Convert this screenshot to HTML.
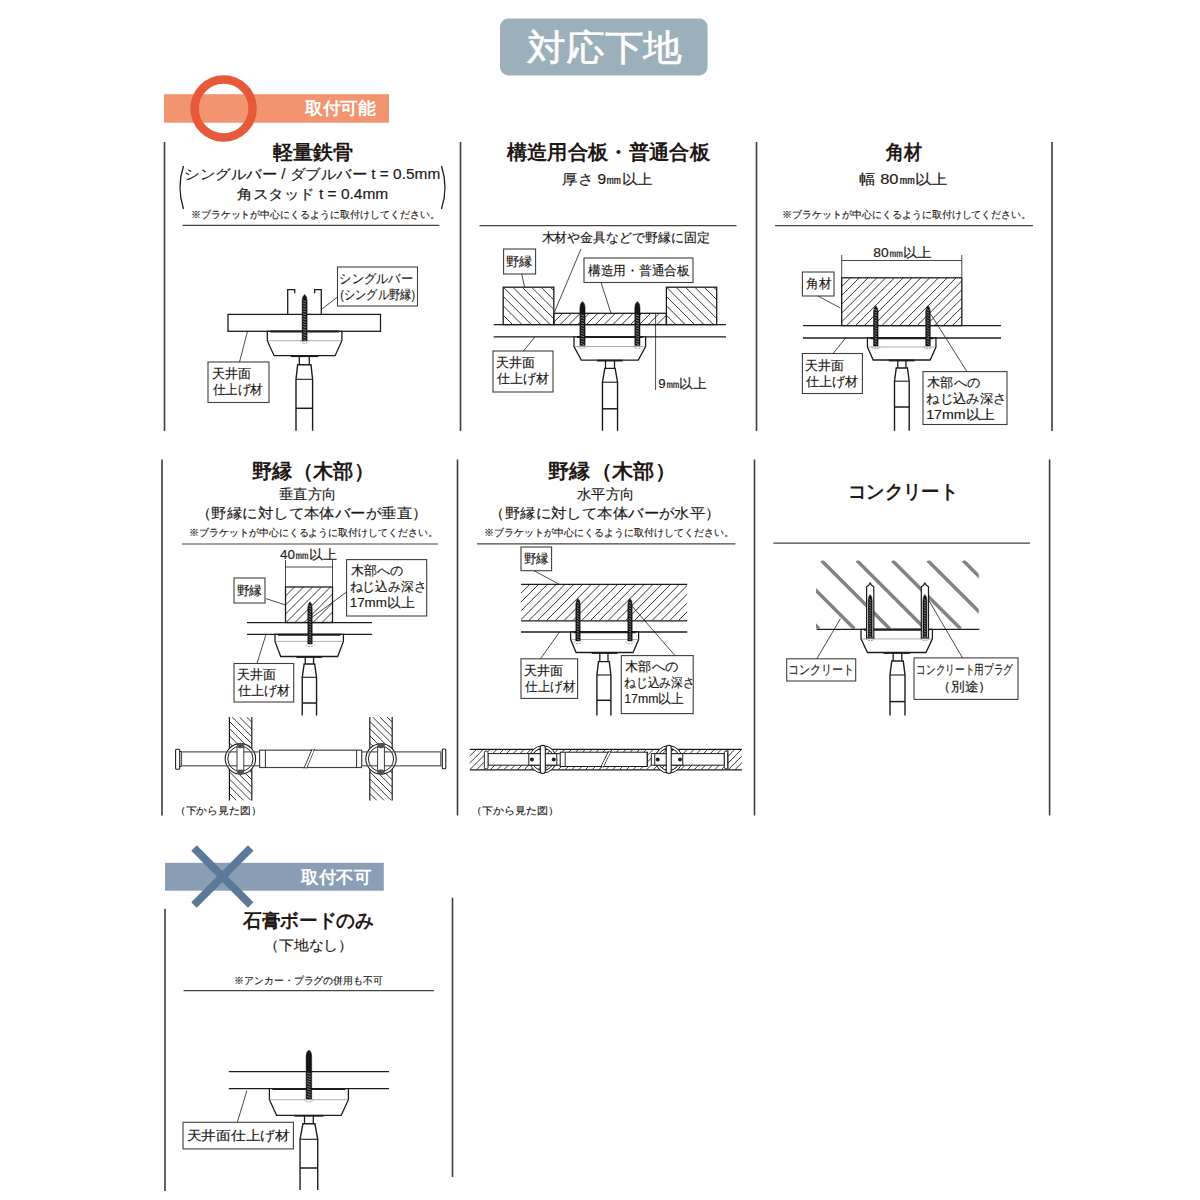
<!DOCTYPE html>
<html><head><meta charset="utf-8"><title>対応下地</title>
<style>
html,body{margin:0;padding:0;background:#fff;}
body{width:1200px;height:1200px;overflow:hidden;font-family:"Liberation Sans",sans-serif;}
svg{display:block;font-family:"Liberation Sans",sans-serif;}
</style></head><body>
<svg width="1200" height="1200" viewBox="0 0 1200 1200">
<defs><clipPath id="cp2a"><rect x="503.2" y="287.2" width="50.6" height="37.4"/></clipPath><clipPath id="cp2b"><rect x="666.4" y="287.2" width="50.3" height="37.4"/></clipPath><clipPath id="cp2c"><rect x="553.8" y="313.3" width="112.6" height="11.3"/></clipPath><clipPath id="cp3a"><rect x="841.7" y="277.8" width="120.1" height="47.8"/></clipPath><clipPath id="cp4a"><rect x="285.5" y="587" width="47" height="35.5"/></clipPath><clipPath id="cw229"><rect x="229.4" y="717" width="22.4" height="83.6"/></clipPath><clipPath id="cw369"><rect x="369.8" y="717" width="22.4" height="83.6"/></clipPath><clipPath id="cp5a"><rect x="521" y="584.4" width="166.2" height="36.4"/></clipPath><clipPath id="cb5"><rect x="469.8" y="749.3" width="272" height="20.5"/></clipPath><clipPath id="cconc"><rect x="816" y="560.5" width="162.75" height="68.25"/></clipPath></defs>
<rect width="1200" height="1200" fill="#fff"/>
<rect x="500" y="18.6" width="207.6" height="57" rx="8.5" fill="#9bb0ba"/>
<text x="527" y="59.9" font-size="36" textLength="155" lengthAdjust="spacingAndGlyphs" fill="#fff" stroke="#fff" stroke-width="0.6">対応下地</text>
<rect x="164" y="94.2" width="225" height="28.5" fill="#f1946f"/>
<circle cx="223.6" cy="108.4" r="29" fill="none" stroke="#e8583b" stroke-width="8.5"/>
<text x="304.7" y="114.1" font-size="17" font-weight="bold" textLength="71.3" lengthAdjust="spacingAndGlyphs" fill="#fff">取付可能</text>
<line x1="164.5" y1="142" x2="164.5" y2="431" stroke="#3c3c3c" stroke-width="1.6"/>
<line x1="460.5" y1="142" x2="460.5" y2="431" stroke="#3c3c3c" stroke-width="1.6"/>
<line x1="756.5" y1="142" x2="756.5" y2="431" stroke="#3c3c3c" stroke-width="1.6"/>
<line x1="1052" y1="142" x2="1052" y2="431" stroke="#3c3c3c" stroke-width="1.6"/>
<text x="272.54" y="158.9" font-size="20" font-weight="bold" textLength="80.8" lengthAdjust="spacingAndGlyphs" fill="#231815">軽量鉄骨</text>
<text x="184.4" y="179.2" font-size="14" textLength="255.86" lengthAdjust="spacingAndGlyphs" fill="#231815" stroke="#231815" stroke-width="0.15">シングルバー / ダブルバー t = 0.5mm</text>
<text x="237.2" y="199.2" font-size="14" textLength="151.06" lengthAdjust="spacingAndGlyphs" fill="#231815" stroke="#231815" stroke-width="0.15">角スタッド t = 0.4mm</text>
<path d="M183.5 166 Q176.5 187.5 183.5 209" stroke="#231815" stroke-width="1.3" fill="none" />
<path d="M441.5 166 Q448.5 187.5 441.5 209" stroke="#231815" stroke-width="1.3" fill="none" />
<text x="190.66" y="218.32" font-size="9.8" textLength="249.08" lengthAdjust="spacingAndGlyphs" fill="#231815" stroke="#231815" stroke-width="0.15">※ブラケットが中心にくるように取付けしてください。</text>
<line x1="182.5" y1="225.3" x2="439.3" y2="225.3" stroke="#444" stroke-width="1.2"/>
<rect x="228" y="314.4" width="152.5" height="16.9" stroke="#1c1c1c" stroke-width="1.3" fill="none" />
<path d="M294.7 293.3 V289.6 H287.7 V314.4 M321.3 314.4 V289.6 H314.6 V293.3" stroke="#1c1c1c" stroke-width="1.3" fill="none" />
<path d="M267.3 331.3 H341.9 V340.7 L335.1 355.7 H274.1 L267.3 340.7 Z" stroke="#1c1c1c" stroke-width="1.3" fill="#fff" />
<line x1="267.3" y1="340.7" x2="341.9" y2="340.7" stroke="#777" stroke-width="0.6"/>
<line x1="270.3" y1="331.6" x2="338.9" y2="331.6" stroke="#1c1c1c" stroke-width="2.0"/>
<line x1="290.88" y1="356.2" x2="318.33" y2="356.2" stroke="#1c1c1c" stroke-width="1.8"/>
<path d="M302.1 341 V300.4 Q302.1 296.4 304.6 294.4 Q307.1 296.4 307.1 300.4 V341 Z" stroke="#111" stroke-width="0.5" fill="#151515" />
<path d="M303.1 300.5 l3 1.2 M303.1 303.1 l3 1.2 M303.1 305.7 l3 1.2 M303.1 308.3 l3 1.2 M303.1 310.9 l3 1.2 M303.1 313.5 l3 1.2 M303.1 316.1 l3 1.2 M303.1 318.7 l3 1.2 M303.1 321.3 l3 1.2 M303.1 323.9 l3 1.2 M303.1 326.5 l3 1.2 M303.1 329.1 l3 1.2 M303.1 331.7 l3 1.2 M303.1 334.3 l3 1.2 M303.1 336.9 l3 1.2 M303.1 339.5 l3 1.2" stroke="#9a9a9a" stroke-width="0.8" fill="none"/>
<path d="M300.4 341.2 A4.2 2.2 0 0 0 308.8 341.2" stroke="#777" stroke-width="0.7" fill="none" stroke-dasharray="2 1"/>
<line x1="299.3" y1="355.7" x2="299.3" y2="364.7" stroke="#1c1c1c" stroke-width="1.3"/>
<line x1="309.3" y1="355.7" x2="309.3" y2="364.7" stroke="#1c1c1c" stroke-width="1.3"/>
<path d="M296 430.7 V379.3 L297.65 364.7 H310.95 L312.6 379.3 V430.7" stroke="#1c1c1c" stroke-width="1.4" fill="none" />
<line x1="296" y1="379.3" x2="312.6" y2="379.3" stroke="#1c1c1c" stroke-width="1.1"/>
<line x1="296" y1="408.3" x2="312.6" y2="408.3" stroke="#1c1c1c" stroke-width="1.5"/>
<rect x="337.5" y="267" width="80" height="39" stroke="#3e3e3e" stroke-width="1.1" fill="#fff" />
<text x="339.4" y="282.55" font-size="12.5" textLength="73.4" lengthAdjust="spacingAndGlyphs" fill="#231815" stroke="#231815" stroke-width="0.15">シングルバー</text>
<text x="340.2" y="299.3" font-size="12.5" textLength="74.8" lengthAdjust="spacingAndGlyphs" fill="#231815" stroke="#231815" stroke-width="0.15">(シングル野縁)</text>
<line x1="321.3" y1="309.5" x2="337.5" y2="297" stroke="#1c1c1c" stroke-width="0.8"/>
<rect x="208" y="362" width="61" height="40.5" stroke="#3e3e3e" stroke-width="1.1" fill="#fff" />
<text x="211.7" y="378.05" font-size="12.5" textLength="39.1" lengthAdjust="spacingAndGlyphs" fill="#231815" stroke="#231815" stroke-width="0.15">天井面</text>
<text x="212.5" y="394.3" font-size="12.5" textLength="50.5" lengthAdjust="spacingAndGlyphs" fill="#231815" stroke="#231815" stroke-width="0.15">仕上げ材</text>
<line x1="239.5" y1="362" x2="247.5" y2="331.3" stroke="#1c1c1c" stroke-width="0.8"/>
<text x="506.92" y="158.9" font-size="20" font-weight="bold" textLength="202.96" lengthAdjust="spacingAndGlyphs" fill="#231815">構造用合板・普通合板</text>
<text x="562.2" y="183.9" font-size="14" textLength="90.72" lengthAdjust="spacingAndGlyphs" fill="#231815" stroke="#231815" stroke-width="0.15">厚さ 9㎜以上</text>
<line x1="479.5" y1="225.6" x2="736.5" y2="225.6" stroke="#444" stroke-width="1.2"/>
<text x="541.5" y="241.65" font-size="12.5" textLength="168.3" lengthAdjust="spacingAndGlyphs" fill="#231815" stroke="#231815" stroke-width="0.15">木材や金具などで野縁に固定</text>
<path d="M465.8 287.2 l37.4 37.4 M475.2 287.2 l37.4 37.4 M484.6 287.2 l37.4 37.4 M494 287.2 l37.4 37.4 M503.4 287.2 l37.4 37.4 M512.8 287.2 l37.4 37.4 M522.2 287.2 l37.4 37.4 M531.6 287.2 l37.4 37.4 M541 287.2 l37.4 37.4 M550.4 287.2 l37.4 37.4 M559.8 287.2 l37.4 37.4 M569.2 287.2 l37.4 37.4 M578.6 287.2 l37.4 37.4 M588 287.2 l37.4 37.4" stroke="#1c1c1c" stroke-width="0.9" fill="none" clip-path="url(#cp2a)"/>
<rect x="503.2" y="287.2" width="50.6" height="37.4" stroke="#1c1c1c" stroke-width="1.3" fill="none" />
<path d="M629 287.2 l37.4 37.4 M638.4 287.2 l37.4 37.4 M647.8 287.2 l37.4 37.4 M657.2 287.2 l37.4 37.4 M666.6 287.2 l37.4 37.4 M676 287.2 l37.4 37.4 M685.4 287.2 l37.4 37.4 M694.8 287.2 l37.4 37.4 M704.2 287.2 l37.4 37.4 M713.6 287.2 l37.4 37.4 M723 287.2 l37.4 37.4 M732.4 287.2 l37.4 37.4 M741.8 287.2 l37.4 37.4 M751.2 287.2 l37.4 37.4" stroke="#1c1c1c" stroke-width="0.9" fill="none" clip-path="url(#cp2b)"/>
<rect x="666.4" y="287.2" width="50.3" height="37.4" stroke="#1c1c1c" stroke-width="1.3" fill="none" />
<path d="M542.5 324.6 l11.3 -11.3 M551.3 324.6 l11.3 -11.3 M560.1 324.6 l11.3 -11.3 M568.9 324.6 l11.3 -11.3 M577.7 324.6 l11.3 -11.3 M586.5 324.6 l11.3 -11.3 M595.3 324.6 l11.3 -11.3 M604.1 324.6 l11.3 -11.3 M612.9 324.6 l11.3 -11.3 M621.7 324.6 l11.3 -11.3 M630.5 324.6 l11.3 -11.3 M639.3 324.6 l11.3 -11.3 M648.1 324.6 l11.3 -11.3 M656.9 324.6 l11.3 -11.3 M665.7 324.6 l11.3 -11.3 M674.5 324.6 l11.3 -11.3" stroke="#1c1c1c" stroke-width="0.9" fill="none" clip-path="url(#cp2c)"/>
<rect x="553.8" y="313.3" width="112.6" height="11.3" stroke="#1c1c1c" stroke-width="1.3" fill="none" />
<line x1="493.7" y1="324.6" x2="726" y2="324.6" stroke="#1c1c1c" stroke-width="1.3"/>
<line x1="493.7" y1="336.8" x2="726" y2="336.8" stroke="#1c1c1c" stroke-width="1.3"/>
<line x1="655.6" y1="313.3" x2="655.6" y2="390" stroke="#1c1c1c" stroke-width="0.8"/>
<path d="M574 336.8 H645.6 V346.5 L638.3 360.1 H581.3 L574 346.5 Z" stroke="#1c1c1c" stroke-width="1.3" fill="#fff" />
<line x1="574" y1="346.5" x2="645.6" y2="346.5" stroke="#777" stroke-width="0.6"/>
<line x1="577" y1="337.1" x2="642.6" y2="337.1" stroke="#1c1c1c" stroke-width="2.0"/>
<line x1="596.97" y1="360.6" x2="622.62" y2="360.6" stroke="#1c1c1c" stroke-width="1.8"/>
<path d="M579.9 345.5 V307.5 Q579.9 303.5 582.5 301.5 Q585.1 303.5 585.1 307.5 V345.5 Z" stroke="#111" stroke-width="0.5" fill="#151515" />
<path d="M580.9 314.8 l3.2 1.2 M580.9 317.4 l3.2 1.2 M580.9 320 l3.2 1.2 M580.9 322.6 l3.2 1.2 M580.9 325.2 l3.2 1.2 M580.9 327.8 l3.2 1.2 M580.9 330.4 l3.2 1.2 M580.9 333 l3.2 1.2 M580.9 335.6 l3.2 1.2 M580.9 338.2 l3.2 1.2 M580.9 340.8 l3.2 1.2 M580.9 343.4 l3.2 1.2" stroke="#9a9a9a" stroke-width="0.8" fill="none"/>
<path d="M634.8 345.5 V307.5 Q634.8 303.5 637.4 301.5 Q640 303.5 640 307.5 V345.5 Z" stroke="#111" stroke-width="0.5" fill="#151515" />
<path d="M635.8 314.8 l3.2 1.2 M635.8 317.4 l3.2 1.2 M635.8 320 l3.2 1.2 M635.8 322.6 l3.2 1.2 M635.8 325.2 l3.2 1.2 M635.8 327.8 l3.2 1.2 M635.8 330.4 l3.2 1.2 M635.8 333 l3.2 1.2 M635.8 335.6 l3.2 1.2 M635.8 338.2 l3.2 1.2 M635.8 340.8 l3.2 1.2 M635.8 343.4 l3.2 1.2" stroke="#9a9a9a" stroke-width="0.8" fill="none"/>
<path d="M578.3 346 A4.2 2.2 0 0 0 586.7 346" stroke="#777" stroke-width="0.7" fill="none" stroke-dasharray="2 1"/>
<path d="M633.2 346 A4.2 2.2 0 0 0 641.6 346" stroke="#777" stroke-width="0.7" fill="none" stroke-dasharray="2 1"/>
<line x1="605.5" y1="360.6" x2="605.5" y2="368.4" stroke="#1c1c1c" stroke-width="1.3"/>
<line x1="614.5" y1="360.6" x2="614.5" y2="368.4" stroke="#1c1c1c" stroke-width="1.3"/>
<path d="M602.45 430.7 V382.2 L604.85 368.4 H615.15 L617.55 382.2 V430.7" stroke="#1c1c1c" stroke-width="1.4" fill="none" />
<line x1="602.45" y1="382.2" x2="617.55" y2="382.2" stroke="#1c1c1c" stroke-width="1.1"/>
<line x1="602.45" y1="408.8" x2="617.55" y2="408.8" stroke="#1c1c1c" stroke-width="1.5"/>
<rect x="503.6" y="249" width="32" height="25" stroke="#3e3e3e" stroke-width="1.1" fill="#fff" />
<text x="506.2" y="265.55" font-size="12.5" textLength="26.6" lengthAdjust="spacingAndGlyphs" fill="#231815" stroke="#231815" stroke-width="0.15">野縁</text>
<line x1="521.7" y1="274" x2="524.7" y2="287.2" stroke="#1c1c1c" stroke-width="0.8"/>
<rect x="584" y="258" width="109" height="24.5" stroke="#3e3e3e" stroke-width="1.1" fill="#fff" />
<text x="588" y="274.55" font-size="12.5" textLength="101.8" lengthAdjust="spacingAndGlyphs" fill="#231815" stroke="#231815" stroke-width="0.15">構造用・普通合板</text>
<line x1="601" y1="282.5" x2="611" y2="313.3" stroke="#1c1c1c" stroke-width="0.8"/>
<line x1="581" y1="249" x2="554.5" y2="312" stroke="#1c1c1c" stroke-width="0.8"/>
<rect x="493" y="351" width="60" height="41" stroke="#3e3e3e" stroke-width="1.1" fill="#fff" />
<text x="496.2" y="367.05" font-size="12.5" textLength="38.8" lengthAdjust="spacingAndGlyphs" fill="#231815" stroke="#231815" stroke-width="0.15">天井面</text>
<text x="497" y="383.05" font-size="12.5" textLength="52" lengthAdjust="spacingAndGlyphs" fill="#231815" stroke="#231815" stroke-width="0.15">仕上げ材</text>
<line x1="523.5" y1="351" x2="535" y2="336.8" stroke="#1c1c1c" stroke-width="0.8"/>
<text x="658.2" y="388.05" font-size="12.5" textLength="48.8" lengthAdjust="spacingAndGlyphs" fill="#231815" stroke="#231815" stroke-width="0.15">9㎜以上</text>
<text x="886" y="158.9" font-size="20" font-weight="bold" textLength="36" lengthAdjust="spacingAndGlyphs" fill="#231815">角材</text>
<text x="859.2" y="183.9" font-size="14" textLength="88.72" lengthAdjust="spacingAndGlyphs" fill="#231815" stroke="#231815" stroke-width="0.15">幅 80㎜以上</text>
<text x="782.32" y="218.32" font-size="9.8" textLength="248.88" lengthAdjust="spacingAndGlyphs" fill="#231815" stroke="#231815" stroke-width="0.15">※ブラケットが中心にくるように取付けしてください。</text>
<line x1="775" y1="225.6" x2="1033" y2="225.6" stroke="#444" stroke-width="1.2"/>
<text x="873.2" y="256.55" font-size="12.5" textLength="58.6" lengthAdjust="spacingAndGlyphs" fill="#231815" stroke="#231815" stroke-width="0.15">80㎜以上</text>
<line x1="841.7" y1="260.5" x2="961.8" y2="260.5" stroke="#1c1c1c" stroke-width="0.8"/>
<line x1="841.7" y1="255" x2="841.7" y2="277.8" stroke="#1c1c1c" stroke-width="0.8"/>
<line x1="961.8" y1="255" x2="961.8" y2="277.8" stroke="#1c1c1c" stroke-width="0.8"/>
<path d="M793.9 325.6 l47.8 -47.8 M802.7 325.6 l47.8 -47.8 M811.5 325.6 l47.8 -47.8 M820.3 325.6 l47.8 -47.8 M829.1 325.6 l47.8 -47.8 M837.9 325.6 l47.8 -47.8 M846.7 325.6 l47.8 -47.8 M855.5 325.6 l47.8 -47.8 M864.3 325.6 l47.8 -47.8 M873.1 325.6 l47.8 -47.8 M881.9 325.6 l47.8 -47.8 M890.7 325.6 l47.8 -47.8 M899.5 325.6 l47.8 -47.8 M908.3 325.6 l47.8 -47.8 M917.1 325.6 l47.8 -47.8 M925.9 325.6 l47.8 -47.8 M934.7 325.6 l47.8 -47.8 M943.5 325.6 l47.8 -47.8 M952.3 325.6 l47.8 -47.8 M961.1 325.6 l47.8 -47.8 M969.9 325.6 l47.8 -47.8 M978.7 325.6 l47.8 -47.8 M987.5 325.6 l47.8 -47.8 M996.3 325.6 l47.8 -47.8 M1005.1 325.6 l47.8 -47.8" stroke="#1c1c1c" stroke-width="0.9" fill="none" clip-path="url(#cp3a)"/>
<rect x="841.7" y="277.8" width="120.1" height="47.8" stroke="#1c1c1c" stroke-width="1.3" fill="none" />
<line x1="803" y1="325.6" x2="1001" y2="325.6" stroke="#1c1c1c" stroke-width="1.3"/>
<line x1="803" y1="338" x2="1001" y2="338" stroke="#1c1c1c" stroke-width="1.3"/>
<path d="M867.45 338 H935.95 V347 L930.2 360 H873.2 L867.45 347 Z" stroke="#1c1c1c" stroke-width="1.3" fill="#fff" />
<line x1="867.45" y1="347" x2="935.95" y2="347" stroke="#777" stroke-width="0.6"/>
<line x1="870.45" y1="338.3" x2="932.95" y2="338.3" stroke="#1c1c1c" stroke-width="2.0"/>
<line x1="888.88" y1="360.5" x2="914.53" y2="360.5" stroke="#1c1c1c" stroke-width="1.8"/>
<path d="M873.5 346 V311.7 Q873.5 307.7 875.8 305.7 Q878.1 307.7 878.1 311.7 V346 Z" stroke="#111" stroke-width="0.5" fill="#151515" />
<path d="M874.5 309.5 l2.6 1.2 M874.5 312.1 l2.6 1.2 M874.5 314.7 l2.6 1.2 M874.5 317.3 l2.6 1.2 M874.5 319.9 l2.6 1.2 M874.5 322.5 l2.6 1.2 M874.5 325.1 l2.6 1.2 M874.5 327.7 l2.6 1.2 M874.5 330.3 l2.6 1.2 M874.5 332.9 l2.6 1.2 M874.5 335.5 l2.6 1.2 M874.5 338.1 l2.6 1.2 M874.5 340.7 l2.6 1.2 M874.5 343.3 l2.6 1.2" stroke="#9a9a9a" stroke-width="0.8" fill="none"/>
<path d="M925.7 346 V311.7 Q925.7 307.7 928 305.7 Q930.3 307.7 930.3 311.7 V346 Z" stroke="#111" stroke-width="0.5" fill="#151515" />
<path d="M926.7 309.5 l2.6 1.2 M926.7 312.1 l2.6 1.2 M926.7 314.7 l2.6 1.2 M926.7 317.3 l2.6 1.2 M926.7 319.9 l2.6 1.2 M926.7 322.5 l2.6 1.2 M926.7 325.1 l2.6 1.2 M926.7 327.7 l2.6 1.2 M926.7 330.3 l2.6 1.2 M926.7 332.9 l2.6 1.2 M926.7 335.5 l2.6 1.2 M926.7 338.1 l2.6 1.2 M926.7 340.7 l2.6 1.2 M926.7 343.3 l2.6 1.2" stroke="#9a9a9a" stroke-width="0.8" fill="none"/>
<path d="M871.6 346.5 A4.2 2.2 0 0 0 880 346.5" stroke="#777" stroke-width="0.7" fill="none" stroke-dasharray="2 1"/>
<path d="M923.8 346.5 A4.2 2.2 0 0 0 932.2 346.5" stroke="#777" stroke-width="0.7" fill="none" stroke-dasharray="2 1"/>
<line x1="897.75" y1="360.6" x2="897.75" y2="368" stroke="#1c1c1c" stroke-width="1.3"/>
<line x1="905.95" y1="360.6" x2="905.95" y2="368" stroke="#1c1c1c" stroke-width="1.3"/>
<path d="M894.5 430.7 V381.2 L896.25 368 H907.45 L909.2 381.2 V430.7" stroke="#1c1c1c" stroke-width="1.4" fill="none" />
<line x1="894.5" y1="381.2" x2="909.2" y2="381.2" stroke="#1c1c1c" stroke-width="1.1"/>
<line x1="894.5" y1="407" x2="909.2" y2="407" stroke="#1c1c1c" stroke-width="1.5"/>
<rect x="802.4" y="272" width="31.6" height="24" stroke="#3e3e3e" stroke-width="1.1" fill="#fff" />
<text x="806" y="288.05" font-size="12.5" textLength="25.3" lengthAdjust="spacingAndGlyphs" fill="#231815" stroke="#231815" stroke-width="0.15">角材</text>
<line x1="818" y1="296" x2="840.4" y2="308" stroke="#1c1c1c" stroke-width="0.8"/>
<rect x="802.4" y="353.5" width="60" height="40" stroke="#3e3e3e" stroke-width="1.1" fill="#fff" />
<text x="805.2" y="369.55" font-size="12.5" textLength="38.8" lengthAdjust="spacingAndGlyphs" fill="#231815" stroke="#231815" stroke-width="0.15">天井面</text>
<text x="806" y="385.55" font-size="12.5" textLength="52" lengthAdjust="spacingAndGlyphs" fill="#231815" stroke="#231815" stroke-width="0.15">仕上げ材</text>
<line x1="833" y1="353.5" x2="845.6" y2="338" stroke="#1c1c1c" stroke-width="0.8"/>
<rect x="923" y="371.6" width="84" height="52.9" stroke="#3e3e3e" stroke-width="1.1" fill="#fff" />
<text x="927" y="386.55" font-size="12.5" textLength="53" lengthAdjust="spacingAndGlyphs" fill="#231815" stroke="#231815" stroke-width="0.15">木部への</text>
<text x="926.2" y="403.05" font-size="12.5" textLength="80.2" lengthAdjust="spacingAndGlyphs" fill="#231815" stroke="#231815" stroke-width="0.15">ねじ込み深さ</text>
<text x="926.2" y="418.55" font-size="12.5" textLength="69" lengthAdjust="spacingAndGlyphs" fill="#231815" stroke="#231815" stroke-width="0.15">17mm以上</text>
<line x1="967" y1="371.6" x2="931" y2="314.7" stroke="#1c1c1c" stroke-width="0.8"/>
<line x1="162" y1="459.5" x2="162" y2="815.5" stroke="#3c3c3c" stroke-width="1.6"/>
<line x1="457.5" y1="459.5" x2="457.5" y2="815.5" stroke="#3c3c3c" stroke-width="1.6"/>
<line x1="754.5" y1="459.5" x2="754.5" y2="815.5" stroke="#3c3c3c" stroke-width="1.6"/>
<line x1="1049.6" y1="459.5" x2="1049.6" y2="815.5" stroke="#3c3c3c" stroke-width="1.6"/>
<text x="252" y="477.8" font-size="20" font-weight="bold" textLength="122" lengthAdjust="spacingAndGlyphs" fill="#231815">野縁（木部）</text>
<text x="279.2" y="499.4" font-size="14" textLength="57.2" lengthAdjust="spacingAndGlyphs" fill="#231815" stroke="#231815" stroke-width="0.15">垂直方向</text>
<text x="195.94" y="518.4" font-size="14" textLength="231.66" lengthAdjust="spacingAndGlyphs" fill="#231815" stroke="#231815" stroke-width="0.15">（野縁に対して本体バーが垂直）</text>
<text x="189.2" y="536.32" font-size="9.8" textLength="248.5" lengthAdjust="spacingAndGlyphs" fill="#231815" stroke="#231815" stroke-width="0.15">※ブラケットが中心にくるように取付けしてください。</text>
<line x1="182" y1="544" x2="438" y2="544" stroke="#444" stroke-width="1.2"/>
<text x="280" y="559.05" font-size="12.5" textLength="57" lengthAdjust="spacingAndGlyphs" fill="#231815" stroke="#231815" stroke-width="0.15">40㎜以上</text>
<line x1="285.5" y1="567" x2="332.5" y2="567" stroke="#1c1c1c" stroke-width="0.8"/>
<line x1="285.5" y1="560" x2="285.5" y2="587" stroke="#1c1c1c" stroke-width="0.8"/>
<line x1="332.5" y1="560" x2="332.5" y2="587" stroke="#1c1c1c" stroke-width="0.8"/>
<path d="M250 622.5 l35.5 -35.5 M259 622.5 l35.5 -35.5 M268 622.5 l35.5 -35.5 M277 622.5 l35.5 -35.5 M286 622.5 l35.5 -35.5 M295 622.5 l35.5 -35.5 M304 622.5 l35.5 -35.5 M313 622.5 l35.5 -35.5 M322 622.5 l35.5 -35.5 M331 622.5 l35.5 -35.5 M340 622.5 l35.5 -35.5 M349 622.5 l35.5 -35.5 M358 622.5 l35.5 -35.5 M367 622.5 l35.5 -35.5" stroke="#1c1c1c" stroke-width="0.9" fill="none" clip-path="url(#cp4a)"/>
<rect x="285.5" y="587" width="47" height="35.5" stroke="#1c1c1c" stroke-width="1.3" fill="none" />
<line x1="247" y1="622.6" x2="372" y2="622.6" stroke="#1c1c1c" stroke-width="1.3"/>
<line x1="247" y1="634.4" x2="372" y2="634.4" stroke="#1c1c1c" stroke-width="1.3"/>
<path d="M275 634.4 H343.4 V641.4 L337.7 656.5 H280.7 L275 641.4 Z" stroke="#1c1c1c" stroke-width="1.3" fill="#fff" />
<line x1="275" y1="641.4" x2="343.4" y2="641.4" stroke="#777" stroke-width="0.6"/>
<line x1="278" y1="634.7" x2="340.4" y2="634.7" stroke="#1c1c1c" stroke-width="2.0"/>
<line x1="296.38" y1="657" x2="322.02" y2="657" stroke="#1c1c1c" stroke-width="1.8"/>
<path d="M307.8 644 V607.7 Q307.8 603.7 310 601.7 Q312.2 603.7 312.2 607.7 V644 Z" stroke="#111" stroke-width="0.5" fill="#151515" />
<path d="M308.8 605.5 l2.4 1.2 M308.8 608.1 l2.4 1.2 M308.8 610.7 l2.4 1.2 M308.8 613.3 l2.4 1.2 M308.8 615.9 l2.4 1.2 M308.8 618.5 l2.4 1.2 M308.8 621.1 l2.4 1.2 M308.8 623.7 l2.4 1.2 M308.8 626.3 l2.4 1.2 M308.8 628.9 l2.4 1.2 M308.8 631.5 l2.4 1.2 M308.8 634.1 l2.4 1.2 M308.8 636.7 l2.4 1.2 M308.8 639.3 l2.4 1.2 M308.8 641.9 l2.4 1.2" stroke="#9a9a9a" stroke-width="0.8" fill="none"/>
<path d="M305.8 644.5 A4.2 2.2 0 0 0 314.2 644.5" stroke="#777" stroke-width="0.7" fill="none" stroke-dasharray="2 1"/>
<line x1="305.25" y1="656.4" x2="305.25" y2="664" stroke="#1c1c1c" stroke-width="1.3"/>
<line x1="313.55" y1="656.4" x2="313.55" y2="664" stroke="#1c1c1c" stroke-width="1.3"/>
<path d="M302.25 715.6 V677.3 L304.15 664 H314.65 L316.55 677.3 V715.6" stroke="#1c1c1c" stroke-width="1.4" fill="none" />
<line x1="302.25" y1="677.3" x2="316.55" y2="677.3" stroke="#1c1c1c" stroke-width="1.1"/>
<line x1="302.25" y1="703" x2="316.55" y2="703" stroke="#1c1c1c" stroke-width="1.5"/>
<rect x="234" y="578" width="31" height="25" stroke="#3e3e3e" stroke-width="1.1" fill="#fff" />
<text x="236.7" y="594.55" font-size="12.5" textLength="25.6" lengthAdjust="spacingAndGlyphs" fill="#231815" stroke="#231815" stroke-width="0.15">野縁</text>
<line x1="266" y1="598.6" x2="285.5" y2="605" stroke="#1c1c1c" stroke-width="0.8"/>
<rect x="346.6" y="559.6" width="80.1" height="56.4" stroke="#3e3e3e" stroke-width="1.1" fill="#fff" />
<text x="350.5" y="575.05" font-size="12.5" textLength="52.5" lengthAdjust="spacingAndGlyphs" fill="#231815" stroke="#231815" stroke-width="0.15">木部への</text>
<text x="349.7" y="591.05" font-size="12.5" textLength="76.7" lengthAdjust="spacingAndGlyphs" fill="#231815" stroke="#231815" stroke-width="0.15">ねじ込み深さ</text>
<text x="349.7" y="606.55" font-size="12.5" textLength="65.1" lengthAdjust="spacingAndGlyphs" fill="#231815" stroke="#231815" stroke-width="0.15">17mm以上</text>
<line x1="346.6" y1="592" x2="311.7" y2="617.6" stroke="#1c1c1c" stroke-width="0.8"/>
<rect x="234" y="663.5" width="59.7" height="38.5" stroke="#3e3e3e" stroke-width="1.1" fill="#fff" />
<text x="237.2" y="679.05" font-size="12.5" textLength="38.8" lengthAdjust="spacingAndGlyphs" fill="#231815" stroke="#231815" stroke-width="0.15">天井面</text>
<text x="238" y="695.05" font-size="12.5" textLength="52" lengthAdjust="spacingAndGlyphs" fill="#231815" stroke="#231815" stroke-width="0.15">仕上げ材</text>
<line x1="257" y1="663.5" x2="266" y2="634.4" stroke="#1c1c1c" stroke-width="0.8"/>
<path d="M138.6 717 l83.6 83.6 M145.8 717 l83.6 83.6 M153 717 l83.6 83.6 M160.2 717 l83.6 83.6 M167.4 717 l83.6 83.6 M174.6 717 l83.6 83.6 M181.8 717 l83.6 83.6 M189 717 l83.6 83.6 M196.2 717 l83.6 83.6 M203.4 717 l83.6 83.6 M210.6 717 l83.6 83.6 M217.8 717 l83.6 83.6 M225 717 l83.6 83.6 M232.2 717 l83.6 83.6 M239.4 717 l83.6 83.6 M246.6 717 l83.6 83.6 M253.8 717 l83.6 83.6 M261 717 l83.6 83.6 M268.2 717 l83.6 83.6 M275.4 717 l83.6 83.6 M282.6 717 l83.6 83.6 M289.8 717 l83.6 83.6 M297 717 l83.6 83.6 M304.2 717 l83.6 83.6 M311.4 717 l83.6 83.6 M318.6 717 l83.6 83.6 M325.8 717 l83.6 83.6 M333 717 l83.6 83.6 M340.2 717 l83.6 83.6" stroke="#1c1c1c" stroke-width="0.9" fill="none" clip-path="url(#cw229)"/>
<line x1="229.4" y1="717" x2="229.4" y2="800.6" stroke="#1c1c1c" stroke-width="1.2"/>
<line x1="251.8" y1="717" x2="251.8" y2="800.6" stroke="#1c1c1c" stroke-width="1.2"/>
<path d="M279 717 l83.6 83.6 M286.2 717 l83.6 83.6 M293.4 717 l83.6 83.6 M300.6 717 l83.6 83.6 M307.8 717 l83.6 83.6 M315 717 l83.6 83.6 M322.2 717 l83.6 83.6 M329.4 717 l83.6 83.6 M336.6 717 l83.6 83.6 M343.8 717 l83.6 83.6 M351 717 l83.6 83.6 M358.2 717 l83.6 83.6 M365.4 717 l83.6 83.6 M372.6 717 l83.6 83.6 M379.8 717 l83.6 83.6 M387 717 l83.6 83.6 M394.2 717 l83.6 83.6 M401.4 717 l83.6 83.6 M408.6 717 l83.6 83.6 M415.8 717 l83.6 83.6 M423 717 l83.6 83.6 M430.2 717 l83.6 83.6 M437.4 717 l83.6 83.6 M444.6 717 l83.6 83.6 M451.8 717 l83.6 83.6 M459 717 l83.6 83.6 M466.2 717 l83.6 83.6 M473.4 717 l83.6 83.6 M480.6 717 l83.6 83.6" stroke="#1c1c1c" stroke-width="0.9" fill="none" clip-path="url(#cw369)"/>
<line x1="369.8" y1="717" x2="369.8" y2="800.6" stroke="#1c1c1c" stroke-width="1.2"/>
<line x1="392.2" y1="717" x2="392.2" y2="800.6" stroke="#1c1c1c" stroke-width="1.2"/>
<circle cx="240.4" cy="758.8" r="15.2" fill="#fff" stroke="#1c1c1c" stroke-width="1.1"/>
<circle cx="240.4" cy="758.8" r="12.6" fill="#fff" stroke="#1c1c1c" stroke-width="1.0"/>
<circle cx="381" cy="758.9" r="15.2" fill="#fff" stroke="#1c1c1c" stroke-width="1.1"/>
<circle cx="381" cy="758.9" r="12.6" fill="#fff" stroke="#1c1c1c" stroke-width="1.0"/>
<rect x="181.5" y="751.9" width="78.1" height="13.9" stroke="#555" stroke-width="1.2" fill="none" />
<rect x="259.6" y="750.2" width="102" height="17.3" stroke="#444" stroke-width="1.2" fill="#fff" />
<line x1="265.4" y1="750.2" x2="265.4" y2="767.5" stroke="#1c1c1c" stroke-width="0.9"/>
<line x1="356.6" y1="750.2" x2="356.6" y2="767.5" stroke="#1c1c1c" stroke-width="0.9"/>
<rect x="361.6" y="751.9" width="79.2" height="13.9" stroke="#555" stroke-width="1.2" fill="none" />
<rect x="175.6" y="749.3" width="4.1" height="19.9" stroke="#1c1c1c" stroke-width="1.1" fill="#fff" rx="1"/>
<rect x="442.3" y="749" width="3.5" height="19.8" stroke="#1c1c1c" stroke-width="1.1" fill="#fff" rx="1"/>
<line x1="179.7" y1="751.5" x2="181.5" y2="751.5" stroke="#1c1c1c" stroke-width="0.9"/>
<line x1="179.7" y1="766.5" x2="181.5" y2="766.5" stroke="#1c1c1c" stroke-width="0.9"/>
<path d="M304 768.5 L312 749.2 M306.5 768.5 L314.5 749.2" stroke="#1c1c1c" stroke-width="0.9" fill="none"/>
<path d="M305.8 767.5 L313.2 750.2" stroke="#fff" stroke-width="1.2" fill="none"/>
<rect x="237.0" y="743.1999999999999" width="6.8" height="31.2" rx="3.4" fill="#fff" stroke="#3a3a3a" stroke-width="1.0"/>
<rect x="237.0" y="743.1999999999999" width="6.8" height="5" rx="2.5" fill="#5a4e4a"/>
<rect x="237.0" y="769.4" width="6.8" height="5" rx="2.5" fill="#5a4e4a"/>
<rect x="377.6" y="743.3" width="6.8" height="31.2" rx="3.4" fill="#fff" stroke="#3a3a3a" stroke-width="1.0"/>
<rect x="377.6" y="743.3" width="6.8" height="5" rx="2.5" fill="#5a4e4a"/>
<rect x="377.6" y="769.5" width="6.8" height="5" rx="2.5" fill="#5a4e4a"/>
<text x="174.8" y="814.1" font-size="10" textLength="86.6" lengthAdjust="spacingAndGlyphs" fill="#231815" stroke="#231815" stroke-width="0.15">（下から見た図）</text>
<text x="548" y="477.8" font-size="20" font-weight="bold" textLength="127.8" lengthAdjust="spacingAndGlyphs" fill="#231815">野縁（木部）</text>
<text x="577.2" y="499.4" font-size="14" textLength="57.2" lengthAdjust="spacingAndGlyphs" fill="#231815" stroke="#231815" stroke-width="0.15">水平方向</text>
<text x="489.4" y="518.4" font-size="14" textLength="231.32" lengthAdjust="spacingAndGlyphs" fill="#231815" stroke="#231815" stroke-width="0.15">（野縁に対して本体バーが水平）</text>
<text x="484.2" y="536.32" font-size="9.8" textLength="250.08" lengthAdjust="spacingAndGlyphs" fill="#231815" stroke="#231815" stroke-width="0.15">※ブラケットが中心にくるように取付けしてください。</text>
<line x1="477" y1="543.8" x2="735.3" y2="543.8" stroke="#444" stroke-width="1.2"/>
<path d="M484.6 620.8 l36.4 -36.4 M493.4 620.8 l36.4 -36.4 M502.2 620.8 l36.4 -36.4 M511 620.8 l36.4 -36.4 M519.8 620.8 l36.4 -36.4 M528.6 620.8 l36.4 -36.4 M537.4 620.8 l36.4 -36.4 M546.2 620.8 l36.4 -36.4 M555 620.8 l36.4 -36.4 M563.8 620.8 l36.4 -36.4 M572.6 620.8 l36.4 -36.4 M581.4 620.8 l36.4 -36.4 M590.2 620.8 l36.4 -36.4 M599 620.8 l36.4 -36.4 M607.8 620.8 l36.4 -36.4 M616.6 620.8 l36.4 -36.4 M625.4 620.8 l36.4 -36.4 M634.2 620.8 l36.4 -36.4 M643 620.8 l36.4 -36.4 M651.8 620.8 l36.4 -36.4 M660.6 620.8 l36.4 -36.4 M669.4 620.8 l36.4 -36.4 M678.2 620.8 l36.4 -36.4 M687 620.8 l36.4 -36.4 M695.8 620.8 l36.4 -36.4 M704.6 620.8 l36.4 -36.4 M713.4 620.8 l36.4 -36.4 M722.2 620.8 l36.4 -36.4" stroke="#1c1c1c" stroke-width="0.9" fill="none" clip-path="url(#cp5a)"/>
<line x1="521" y1="584.4" x2="687.2" y2="584.4" stroke="#1c1c1c" stroke-width="1.3"/>
<line x1="521" y1="620.8" x2="687.2" y2="620.8" stroke="#1c1c1c" stroke-width="1.3"/>
<line x1="521" y1="632" x2="687.2" y2="632" stroke="#1c1c1c" stroke-width="1.3"/>
<path d="M570.6 632 H638.6 V639.5 L633.1 652.5 H576.1 L570.6 639.5 Z" stroke="#1c1c1c" stroke-width="1.3" fill="#fff" />
<line x1="570.6" y1="639.5" x2="638.6" y2="639.5" stroke="#777" stroke-width="0.6"/>
<line x1="573.6" y1="632.3" x2="635.6" y2="632.3" stroke="#1c1c1c" stroke-width="2.0"/>
<line x1="591.77" y1="653" x2="617.43" y2="653" stroke="#1c1c1c" stroke-width="1.8"/>
<path d="M575.8 641 V604.6 Q575.8 600.6 578 598.6 Q580.2 600.6 580.2 604.6 V641 Z" stroke="#111" stroke-width="0.5" fill="#151515" />
<path d="M576.8 602.5 l2.4 1.2 M576.8 605.1 l2.4 1.2 M576.8 607.7 l2.4 1.2 M576.8 610.3 l2.4 1.2 M576.8 612.9 l2.4 1.2 M576.8 615.5 l2.4 1.2 M576.8 618.1 l2.4 1.2 M576.8 620.7 l2.4 1.2 M576.8 623.3 l2.4 1.2 M576.8 625.9 l2.4 1.2 M576.8 628.5 l2.4 1.2 M576.8 631.1 l2.4 1.2 M576.8 633.7 l2.4 1.2 M576.8 636.3 l2.4 1.2 M576.8 638.9 l2.4 1.2" stroke="#9a9a9a" stroke-width="0.8" fill="none"/>
<path d="M627.8 641 V604.6 Q627.8 600.6 630 598.6 Q632.2 600.6 632.2 604.6 V641 Z" stroke="#111" stroke-width="0.5" fill="#151515" />
<path d="M628.8 602.5 l2.4 1.2 M628.8 605.1 l2.4 1.2 M628.8 607.7 l2.4 1.2 M628.8 610.3 l2.4 1.2 M628.8 612.9 l2.4 1.2 M628.8 615.5 l2.4 1.2 M628.8 618.1 l2.4 1.2 M628.8 620.7 l2.4 1.2 M628.8 623.3 l2.4 1.2 M628.8 625.9 l2.4 1.2 M628.8 628.5 l2.4 1.2 M628.8 631.1 l2.4 1.2 M628.8 633.7 l2.4 1.2 M628.8 636.3 l2.4 1.2 M628.8 638.9 l2.4 1.2" stroke="#9a9a9a" stroke-width="0.8" fill="none"/>
<path d="M573.8 641.5 A4.2 2.2 0 0 0 582.2 641.5" stroke="#777" stroke-width="0.7" fill="none" stroke-dasharray="2 1"/>
<path d="M625.8 641.5 A4.2 2.2 0 0 0 634.2 641.5" stroke="#777" stroke-width="0.7" fill="none" stroke-dasharray="2 1"/>
<line x1="599.8" y1="653" x2="599.8" y2="661.6" stroke="#1c1c1c" stroke-width="1.3"/>
<line x1="608" y1="653" x2="608" y2="661.6" stroke="#1c1c1c" stroke-width="1.3"/>
<path d="M596.9 715.6 V675 L598.5 661.6 H609.3 L610.9 675 V715.6" stroke="#1c1c1c" stroke-width="1.4" fill="none" />
<line x1="596.9" y1="675" x2="610.9" y2="675" stroke="#1c1c1c" stroke-width="1.1"/>
<line x1="596.9" y1="700.3" x2="610.9" y2="700.3" stroke="#1c1c1c" stroke-width="1.5"/>
<rect x="521" y="547" width="30.6" height="23.7" stroke="#3e3e3e" stroke-width="1.1" fill="#fff" />
<text x="523.7" y="563.05" font-size="12.5" textLength="25.1" lengthAdjust="spacingAndGlyphs" fill="#231815" stroke="#231815" stroke-width="0.15">野縁</text>
<line x1="534" y1="570.7" x2="559.5" y2="584.4" stroke="#1c1c1c" stroke-width="0.8"/>
<rect x="521" y="658.8" width="56.6" height="39.6" stroke="#3e3e3e" stroke-width="1.1" fill="#fff" />
<text x="524.2" y="674.55" font-size="12.5" textLength="38.8" lengthAdjust="spacingAndGlyphs" fill="#231815" stroke="#231815" stroke-width="0.15">天井面</text>
<text x="525" y="690.55" font-size="12.5" textLength="50" lengthAdjust="spacingAndGlyphs" fill="#231815" stroke="#231815" stroke-width="0.15">仕上げ材</text>
<line x1="540.5" y1="658.8" x2="559.5" y2="632" stroke="#1c1c1c" stroke-width="0.8"/>
<rect x="621.3" y="655.6" width="71.9" height="58" stroke="#3e3e3e" stroke-width="1.1" fill="#fff" />
<text x="625" y="671.05" font-size="12.5" textLength="53" lengthAdjust="spacingAndGlyphs" fill="#231815" stroke="#231815" stroke-width="0.15">木部への</text>
<text x="624.2" y="687.05" font-size="12.5" textLength="70.2" lengthAdjust="spacingAndGlyphs" fill="#231815" stroke="#231815" stroke-width="0.15">ねじ込み深さ</text>
<text x="624.2" y="702.55" font-size="12.5" textLength="59.8" lengthAdjust="spacingAndGlyphs" fill="#231815" stroke="#231815" stroke-width="0.15">17mm以上</text>
<line x1="675" y1="655.6" x2="632.4" y2="606.5" stroke="#1c1c1c" stroke-width="0.8"/>
<path d="M442.5 769.8 l20.5 -20.5 M449.3 769.8 l20.5 -20.5 M456.1 769.8 l20.5 -20.5 M462.9 769.8 l20.5 -20.5 M469.7 769.8 l20.5 -20.5 M476.5 769.8 l20.5 -20.5 M483.3 769.8 l20.5 -20.5 M490.1 769.8 l20.5 -20.5 M496.9 769.8 l20.5 -20.5 M503.7 769.8 l20.5 -20.5 M510.5 769.8 l20.5 -20.5 M517.3 769.8 l20.5 -20.5 M524.1 769.8 l20.5 -20.5 M530.9 769.8 l20.5 -20.5 M537.7 769.8 l20.5 -20.5 M544.5 769.8 l20.5 -20.5 M551.3 769.8 l20.5 -20.5 M558.1 769.8 l20.5 -20.5 M564.9 769.8 l20.5 -20.5 M571.7 769.8 l20.5 -20.5 M578.5 769.8 l20.5 -20.5 M585.3 769.8 l20.5 -20.5 M592.1 769.8 l20.5 -20.5 M598.9 769.8 l20.5 -20.5 M605.7 769.8 l20.5 -20.5 M612.5 769.8 l20.5 -20.5 M619.3 769.8 l20.5 -20.5 M626.1 769.8 l20.5 -20.5 M632.9 769.8 l20.5 -20.5 M639.7 769.8 l20.5 -20.5 M646.5 769.8 l20.5 -20.5 M653.3 769.8 l20.5 -20.5 M660.1 769.8 l20.5 -20.5 M666.9 769.8 l20.5 -20.5 M673.7 769.8 l20.5 -20.5 M680.5 769.8 l20.5 -20.5 M687.3 769.8 l20.5 -20.5 M694.1 769.8 l20.5 -20.5 M700.9 769.8 l20.5 -20.5 M707.7 769.8 l20.5 -20.5 M714.5 769.8 l20.5 -20.5 M721.3 769.8 l20.5 -20.5 M728.1 769.8 l20.5 -20.5 M734.9 769.8 l20.5 -20.5 M741.7 769.8 l20.5 -20.5 M748.5 769.8 l20.5 -20.5 M755.3 769.8 l20.5 -20.5 M762.1 769.8 l20.5 -20.5 M768.9 769.8 l20.5 -20.5" stroke="#1c1c1c" stroke-width="0.9" fill="none" clip-path="url(#cb5)"/>
<line x1="469.8" y1="749.3" x2="741.9" y2="749.3" stroke="#1c1c1c" stroke-width="1.2"/>
<line x1="469.8" y1="769.8" x2="741.9" y2="769.8" stroke="#1c1c1c" stroke-width="1.2"/>
<circle cx="542.8" cy="759.4" r="12.4" fill="none" stroke="#fff" stroke-width="2.6"/>
<circle cx="542.8" cy="759.4" r="13.7" fill="none" stroke="#1c1c1c" stroke-width="1.0"/>
<circle cx="542.8" cy="759.4" r="11.1" fill="none" stroke="#1c1c1c" stroke-width="1.0"/>
<circle cx="668.75" cy="759.4" r="12.4" fill="none" stroke="#fff" stroke-width="2.6"/>
<circle cx="668.75" cy="759.4" r="13.7" fill="none" stroke="#1c1c1c" stroke-width="1.0"/>
<circle cx="668.75" cy="759.4" r="11.1" fill="none" stroke="#1c1c1c" stroke-width="1.0"/>
<rect x="488" y="753.6" width="73" height="11.6" stroke="#1c1c1c" stroke-width="1.0" fill="#fff" />
<rect x="560.2" y="752.2" width="87" height="14.3" stroke="#1c1c1c" stroke-width="1.0" fill="#fff" />
<line x1="565.2" y1="752.2" x2="565.2" y2="766.5" stroke="#1c1c1c" stroke-width="0.9"/>
<line x1="647.3" y1="752.2" x2="647.3" y2="766.5" stroke="#1c1c1c" stroke-width="0.9"/>
<rect x="651.3" y="753.6" width="73" height="11.6" stroke="#1c1c1c" stroke-width="1.0" fill="#fff" />
<rect x="484.3" y="751" width="3.7" height="18" rx="1.8" fill="#fff" stroke="#2b2b2b" stroke-width="1"/>
<rect x="724.4" y="751" width="3.3" height="18" rx="1.6" fill="#fff" stroke="#2b2b2b" stroke-width="1"/>
<line x1="728" y1="749.3" x2="728" y2="769.8" stroke="#1c1c1c" stroke-width="0.8"/>
<path d="M600.5 767.5 L608.5 751.2 M603 767.5 L611 751.2" stroke="#1c1c1c" stroke-width="0.9" fill="none"/>
<path d="M602.3 766.5 L609.7 752.2" stroke="#fff" stroke-width="1.2" fill="none"/>
<rect x="528.8" y="753.7" width="28" height="11.4" fill="#fff" stroke="#1c1c1c" stroke-width="1"/>
<circle cx="531.9" cy="759.4" r="2.0" fill="#222"/>
<circle cx="553.75" cy="759.4" r="2.0" fill="#222"/>
<rect x="540.3" y="745.2" width="5" height="28.3" rx="2.5" fill="#fff" stroke="#1c1c1c" stroke-width="1.1"/>
<rect x="654.75" y="753.7" width="28" height="11.4" fill="#fff" stroke="#1c1c1c" stroke-width="1"/>
<circle cx="657.75" cy="759.4" r="2.0" fill="#222"/>
<circle cx="680" cy="759.4" r="2.0" fill="#222"/>
<rect x="666.25" y="745.2" width="5" height="28.3" rx="2.5" fill="#fff" stroke="#1c1c1c" stroke-width="1.1"/>
<text x="470.8" y="814.1" font-size="10" textLength="88.4" lengthAdjust="spacingAndGlyphs" fill="#231815" stroke="#231815" stroke-width="0.15">（下から見た図）</text>
<text x="848.1" y="497.8" font-size="19" font-weight="bold" textLength="109.9" lengthAdjust="spacingAndGlyphs" fill="#231815">コンクリート</text>
<line x1="773.4" y1="543.2" x2="1030" y2="543.2" stroke="#444" stroke-width="1.2"/>
<path d="M715.3 560.5 l68.25 68.25 M750.7 560.5 l68.25 68.25 M786.1 560.5 l68.25 68.25 M821.5 560.5 l68.25 68.25 M856.9 560.5 l68.25 68.25 M892.3 560.5 l68.25 68.25 M927.7 560.5 l68.25 68.25 M963.1 560.5 l68.25 68.25 M998.5 560.5 l68.25 68.25" stroke="#828282" stroke-width="3.5" fill="none" clip-path="url(#cconc)"/>
<line x1="816.8" y1="629.4" x2="979.3" y2="629.4" stroke="#1c1c1c" stroke-width="1.3"/>
<path d="M861 629.4 H932.4 V638.9 L925.95 652.5 H867.45 L861 638.9 Z" stroke="#1c1c1c" stroke-width="1.3" fill="#fff" />
<line x1="861" y1="638.9" x2="932.4" y2="638.9" stroke="#777" stroke-width="0.6"/>
<line x1="864" y1="629.7" x2="929.4" y2="629.7" stroke="#1c1c1c" stroke-width="2.0"/>
<line x1="883.54" y1="653" x2="909.86" y2="653" stroke="#1c1c1c" stroke-width="1.8"/>
<path d="M866.6 637.8 V586.8 L869 585 L870.2 583 L871.4 585 L873.8 586.8 V637.8 Z" fill="#fff" stroke="#1c1c1c" stroke-width="1.2"/>
<path d="M868.2 637 V600.5 Q868.2 596.5 870.2 594.5 Q872.2 596.5 872.2 600.5 V637 Z" stroke="#111" stroke-width="0.5" fill="#151515" />
<path d="M869.2 599.5 l2 1.2 M869.2 602.1 l2 1.2 M869.2 604.7 l2 1.2 M869.2 607.3 l2 1.2 M869.2 609.9 l2 1.2 M869.2 612.5 l2 1.2 M869.2 615.1 l2 1.2 M869.2 617.7 l2 1.2 M869.2 620.3 l2 1.2 M869.2 622.9 l2 1.2 M869.2 625.5 l2 1.2 M869.2 628.1 l2 1.2 M869.2 630.7 l2 1.2 M869.2 633.3 l2 1.2 M869.2 635.9 l2 1.2" stroke="#9a9a9a" stroke-width="0.8" fill="none"/>
<path d="M865.8 638.3 A4.4 2.3 0 0 0 874.6 638.3" stroke="#777" stroke-width="0.7" fill="none" stroke-dasharray="2 1"/>
<path d="M921.3 637.8 V586.8 L923.7 585 L924.9 583 L926.1 585 L928.5 586.8 V637.8 Z" fill="#fff" stroke="#1c1c1c" stroke-width="1.2"/>
<path d="M922.9 637 V600.5 Q922.9 596.5 924.9 594.5 Q926.9 596.5 926.9 600.5 V637 Z" stroke="#111" stroke-width="0.5" fill="#151515" />
<path d="M923.9 599.5 l2 1.2 M923.9 602.1 l2 1.2 M923.9 604.7 l2 1.2 M923.9 607.3 l2 1.2 M923.9 609.9 l2 1.2 M923.9 612.5 l2 1.2 M923.9 615.1 l2 1.2 M923.9 617.7 l2 1.2 M923.9 620.3 l2 1.2 M923.9 622.9 l2 1.2 M923.9 625.5 l2 1.2 M923.9 628.1 l2 1.2 M923.9 630.7 l2 1.2 M923.9 633.3 l2 1.2 M923.9 635.9 l2 1.2" stroke="#9a9a9a" stroke-width="0.8" fill="none"/>
<path d="M920.5 638.3 A4.4 2.3 0 0 0 929.3 638.3" stroke="#777" stroke-width="0.7" fill="none" stroke-dasharray="2 1"/>
<line x1="893.2" y1="652.5" x2="893.2" y2="661" stroke="#1c1c1c" stroke-width="1.3"/>
<line x1="901.8" y1="652.5" x2="901.8" y2="661" stroke="#1c1c1c" stroke-width="1.3"/>
<path d="M890 715.6 V675 L891.75 661 H903.25 L905 675 V715.6" stroke="#1c1c1c" stroke-width="1.4" fill="none" />
<line x1="890" y1="675" x2="905" y2="675" stroke="#1c1c1c" stroke-width="1.1"/>
<line x1="890" y1="701.6" x2="905" y2="701.6" stroke="#1c1c1c" stroke-width="1.5"/>
<rect x="786.7" y="658.8" width="69" height="22.2" stroke="#3e3e3e" stroke-width="1.1" fill="#fff" />
<text x="788.1" y="674.05" font-size="12.5" textLength="66.3" lengthAdjust="spacingAndGlyphs" fill="#231815" stroke="#231815" stroke-width="0.15">コンクリート</text>
<line x1="816.8" y1="658.8" x2="840.5" y2="618.6" stroke="#1c1c1c" stroke-width="0.8"/>
<rect x="914" y="657.9" width="104" height="41.5" stroke="#3e3e3e" stroke-width="1.1" fill="#fff" />
<text x="916.4" y="674.05" font-size="12.5" textLength="96.6" lengthAdjust="spacingAndGlyphs" fill="#231815" stroke="#231815" stroke-width="0.15">コンクリート用プラグ</text>
<text x="937.2" y="691.05" font-size="12.5" textLength="54.8" lengthAdjust="spacingAndGlyphs" fill="#231815" stroke="#231815" stroke-width="0.15">（別途）</text>
<line x1="962.5" y1="657.9" x2="928.6" y2="600" stroke="#1c1c1c" stroke-width="0.8"/>
<rect x="165" y="862.8" width="218.8" height="27.9" fill="#8a9eb5"/>
<path d="M194 848 L250.7 905 M250.7 848 L194 905" stroke="#5b7a99" stroke-width="7.8"/>
<text x="301" y="883.1" font-size="17" font-weight="bold" textLength="70" lengthAdjust="spacingAndGlyphs" fill="#fff">取付不可</text>
<line x1="165" y1="908.8" x2="165" y2="1191" stroke="#3c3c3c" stroke-width="1.6"/>
<line x1="452.5" y1="897.7" x2="452.5" y2="1177" stroke="#3c3c3c" stroke-width="1.6"/>
<text x="243" y="926.9" font-size="19" font-weight="bold" textLength="130.8" lengthAdjust="spacingAndGlyphs" fill="#231815">石膏ボードのみ</text>
<text x="263.9" y="949.75" font-size="13.5" textLength="89.24" lengthAdjust="spacingAndGlyphs" fill="#231815" stroke="#231815" stroke-width="0.15">（下地なし）</text>
<text x="234.2" y="984.12" font-size="9.8" textLength="148.6" lengthAdjust="spacingAndGlyphs" fill="#231815" stroke="#231815" stroke-width="0.15">※アンカー・プラグの併用も不可</text>
<line x1="183.6" y1="990.7" x2="434" y2="990.7" stroke="#444" stroke-width="1.2"/>
<line x1="228.8" y1="1071.6" x2="389" y2="1071.6" stroke="#1c1c1c" stroke-width="1.3"/>
<line x1="228.8" y1="1088.7" x2="389" y2="1088.7" stroke="#1c1c1c" stroke-width="1.3"/>
<path d="M269.4 1088.7 H348.4 V1099.7 L341.2 1115.3 H276.6 L269.4 1099.7 Z" stroke="#1c1c1c" stroke-width="1.3" fill="#fff" />
<line x1="269.4" y1="1099.7" x2="348.4" y2="1099.7" stroke="#777" stroke-width="0.6"/>
<line x1="272.4" y1="1089" x2="345.4" y2="1089" stroke="#1c1c1c" stroke-width="2.0"/>
<line x1="294.36" y1="1115.8" x2="323.44" y2="1115.8" stroke="#1c1c1c" stroke-width="1.8"/>
<path d="M306.1 1099 V1056 Q306.1 1052 308.9 1050 Q311.7 1052 311.7 1056 V1099 Z" stroke="#111" stroke-width="0.5" fill="#151515" />
<path d="M307.1 1073.1 l3.6 1.2 M307.1 1075.7 l3.6 1.2 M307.1 1078.3 l3.6 1.2 M307.1 1080.9 l3.6 1.2 M307.1 1083.5 l3.6 1.2 M307.1 1086.1 l3.6 1.2 M307.1 1088.7 l3.6 1.2 M307.1 1091.3 l3.6 1.2 M307.1 1093.9 l3.6 1.2 M307.1 1096.5 l3.6 1.2" stroke="#9a9a9a" stroke-width="0.8" fill="none"/>
<path d="M304.3 1099.5 A4.6 2.4 0 0 0 313.5 1099.5" stroke="#777" stroke-width="0.7" fill="none" stroke-dasharray="2 1"/>
<line x1="304.5" y1="1115.3" x2="304.5" y2="1123.8" stroke="#1c1c1c" stroke-width="1.3"/>
<line x1="313.3" y1="1115.3" x2="313.3" y2="1123.8" stroke="#1c1c1c" stroke-width="1.3"/>
<path d="M300.05 1190 V1139.3 L302.9 1123.8 H314.9 L317.75 1139.3 V1190" stroke="#1c1c1c" stroke-width="1.4" fill="none" />
<line x1="300.05" y1="1139.3" x2="317.75" y2="1139.3" stroke="#1c1c1c" stroke-width="1.1"/>
<line x1="300.05" y1="1168" x2="317.75" y2="1168" stroke="#1c1c1c" stroke-width="1.5"/>
<rect x="183" y="1122.3" width="110.4" height="26.6" stroke="#3e3e3e" stroke-width="1.1" fill="#fff" />
<text x="186.7" y="1139.5" font-size="13" textLength="103.1" lengthAdjust="spacingAndGlyphs" fill="#231815" stroke="#231815" stroke-width="0.15">天井面仕上げ材</text>
<line x1="237.3" y1="1122.3" x2="246.9" y2="1090.7" stroke="#1c1c1c" stroke-width="0.8"/>
</svg>
</body></html>
